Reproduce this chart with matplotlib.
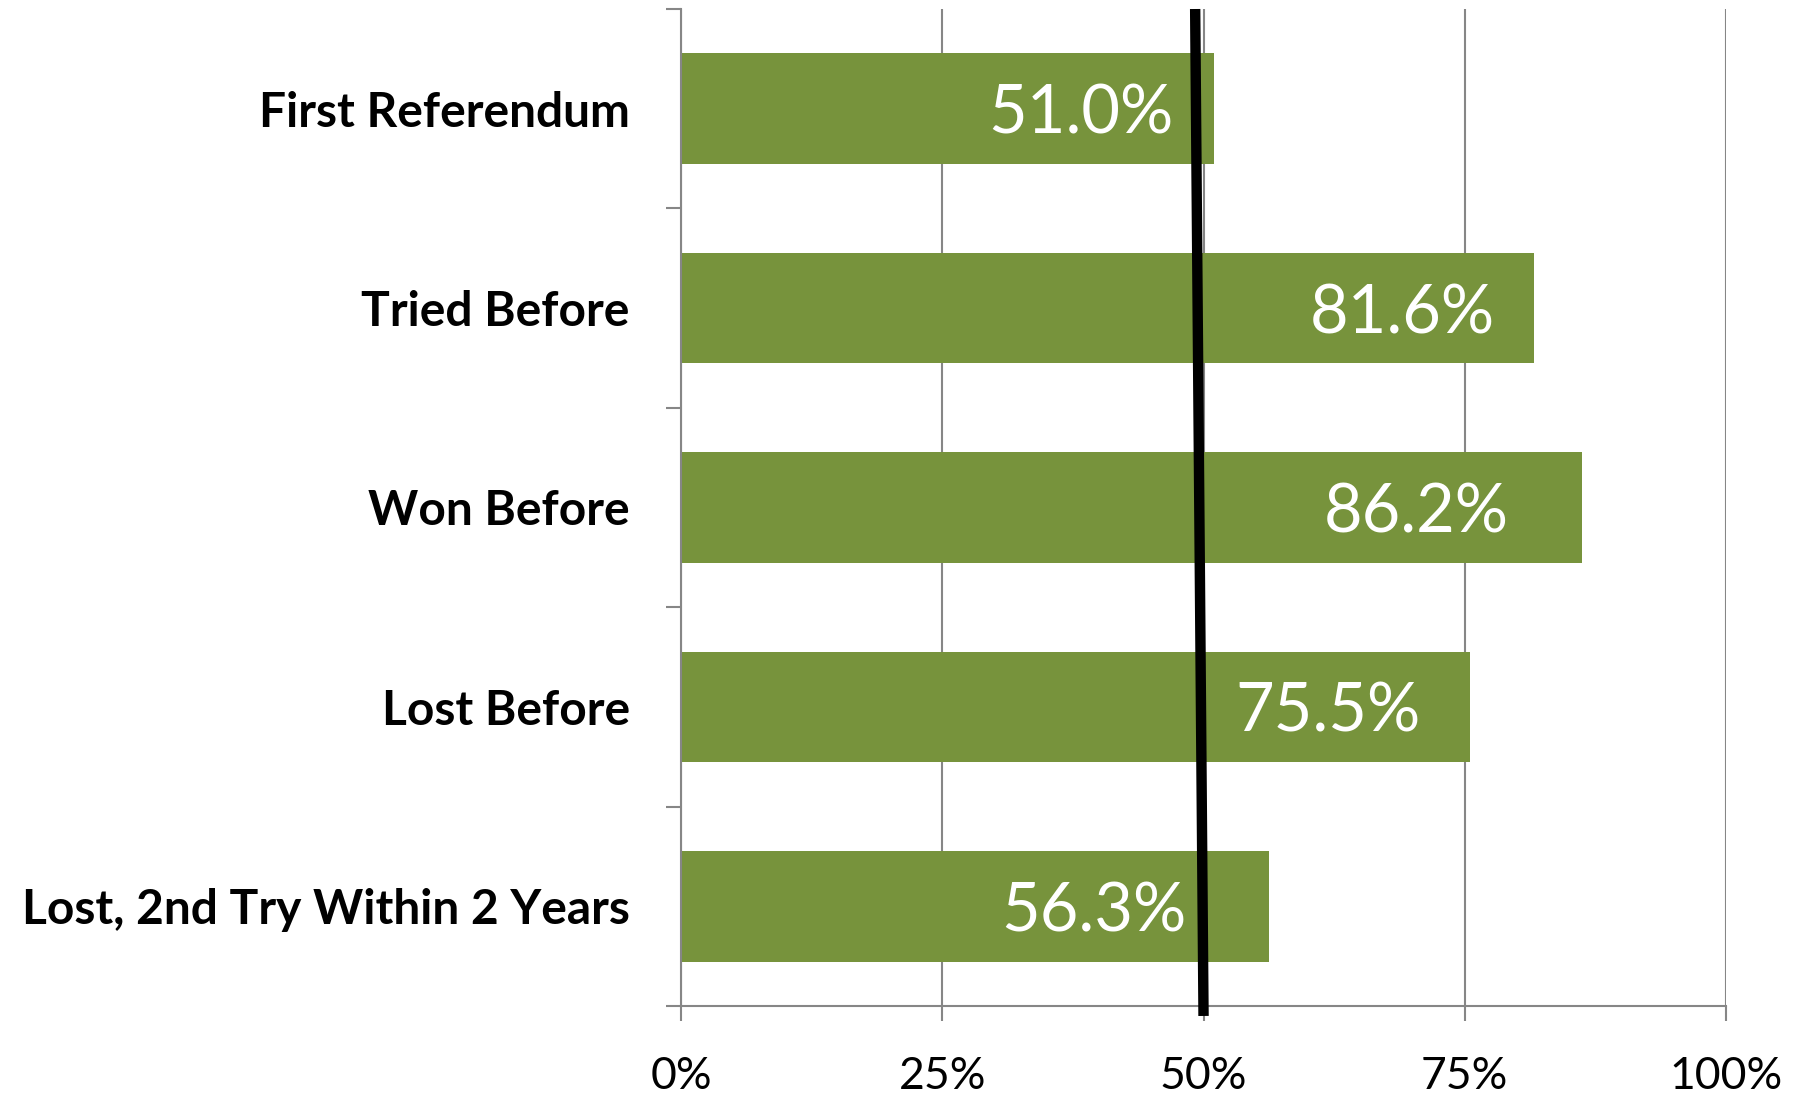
import matplotlib.pyplot as plt
import numpy as np

plt.rcParams['font.family'] = ['Lato', 'DejaVu Sans']

categories = ['First Referendum', 'Tried Before', 'Won Before', 'Lost Before',
              'Lost, 2nd Try Within 2 Years']
values = [51.0, 81.6, 86.2, 75.5, 56.3]
value_labels = ['51.0%', '81.6%', '86.2%', '75.5%', '56.3%']
x_ticks = [0, 25, 50, 75, 100]
x_tick_labels = ['0%', '25%', '50%', '75%', '100%']
# hand-drawn reference line (slightly slanted in the original)
ref_line_x = [49.2, 50.0]
ref_line_y = [-0.5, 4.55]

# how far each label's right edge sits inside its bar (in % units)
label_gap = [3.9, 3.7, 7.0, 4.7, 7.9]

green = '#77933C'
grey = '#868686'

fig = plt.figure(figsize=(18.09, 10.98), dpi=100)
ax = fig.add_axes([0.3765, 0.0838, 0.5776, 0.908])

pos = np.arange(len(categories))
ax.barh(pos, values, height=0.555, color=green, zorder=2)

for p, v, lab, g in zip(pos, values, value_labels, label_gap):
    ax.text(v - g, p + 0.03, lab, ha='right', va='center', color='white',
            fontsize=48, zorder=3)

ax.plot(ref_line_x, ref_line_y, color='black', lw=7.5, solid_capstyle='butt',
        clip_on=False, zorder=4)

ax.set_xlim(0, 100)
ax.set_ylim(4.5, -0.5)
ax.set_xticks(x_ticks)
ax.set_xticklabels(x_tick_labels)
ax.xaxis.grid(True, color=grey, lw=1.5, zorder=1)

ax.set_yticks(np.arange(-0.5, len(categories), 1.0))
ax.set_yticklabels([])
ax.set_yticks(pos, minor=True)
ax.set_yticklabels(categories, minor=True, fontweight='bold', fontsize=34.5)

ax.tick_params(axis='y', which='major', length=11, width=1.5, color=grey)
ax.tick_params(axis='y', which='minor', length=0, pad=37)
ax.tick_params(axis='x', length=11, width=1.5, color=grey, labelsize=32, pad=25)

for s in ['top', 'right']:
    ax.spines[s].set_visible(False)
for s in ['left', 'bottom']:
    ax.spines[s].set_color(grey)
    ax.spines[s].set_linewidth(1.5)

fig.savefig('out.png', dpi=100)
